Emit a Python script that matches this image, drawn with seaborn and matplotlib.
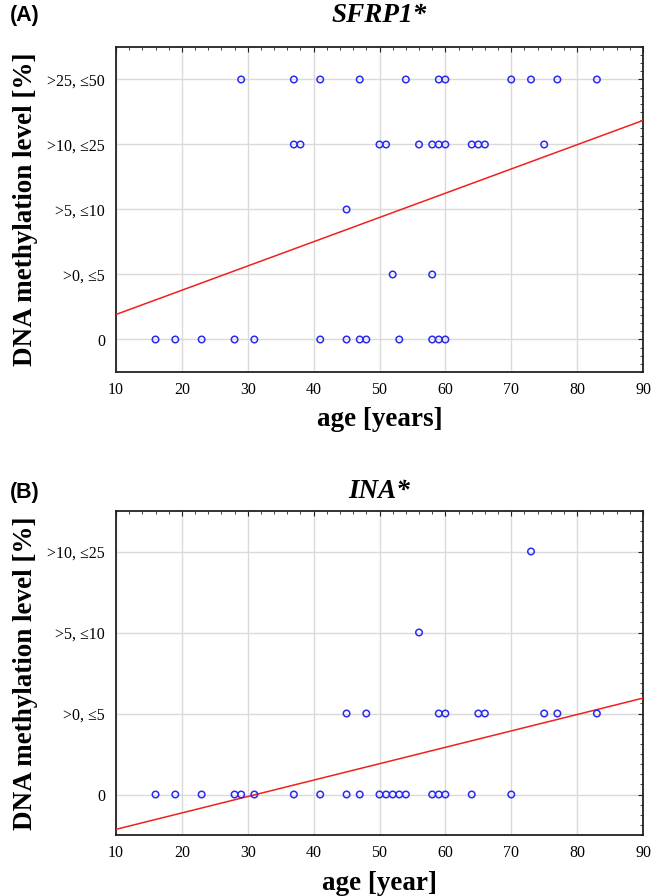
import numpy as np
import pandas as pd
import matplotlib
matplotlib.use("Agg")
import matplotlib.pyplot as plt
from matplotlib.ticker import MultipleLocator, FixedLocator
import seaborn as sns

# ---------------- data ----------------
level_labels = ["0", ">0, \u22645", ">5, \u226410", ">10, \u226425", ">25, \u226450"]

# SFRP1 : ages of patients in each methylation class (class index = position in level_labels)
sfrp1_ages_0 = [16, 19, 23, 28, 31, 41, 45, 47, 48, 53, 58, 59, 60]
sfrp1_ages_1 = [52, 58]
sfrp1_ages_2 = [45]
sfrp1_ages_3 = [37, 38, 50, 51, 56, 58, 59, 60, 64, 65, 66, 75]
sfrp1_ages_4 = [29, 37, 41, 47, 54, 59, 60, 70, 73, 77, 83]

# INA
ina_ages_0 = [16, 19, 23, 28, 29, 31, 37, 41, 45, 47, 50, 51, 52, 53, 54, 58, 59, 60, 64, 70]
ina_ages_1 = [45, 48, 59, 60, 65, 66, 75, 77, 83]
ina_ages_2 = [56]
ina_ages_3 = [73]

# fitted trend lines
trend_ages = [10, 90]
sfrp1_trend = [0.385, 3.37]
ina_trend = [-0.43, 1.19]

age_ticks = [10, 20, 30, 40, 50, 60, 70, 80, 90]


def to_frame(groups):
    rows = []
    for lvl, ages in enumerate(groups):
        for a in ages:
            rows.append((a, lvl))
    return pd.DataFrame(rows, columns=["age", "level"])


sfrp1_df = to_frame([sfrp1_ages_0, sfrp1_ages_1, sfrp1_ages_2, sfrp1_ages_3, sfrp1_ages_4])
ina_df = to_frame([ina_ages_0, ina_ages_1, ina_ages_2, ina_ages_3])

# ---------------- style ----------------
sns.set_theme(style="white")
plt.rcParams["font.family"] = ["Liberation Serif", "DejaVu Serif"]
plt.rcParams["text.color"] = "black"
plt.rcParams["axes.labelcolor"] = "black"
plt.rcParams["xtick.color"] = "black"
plt.rcParams["ytick.color"] = "black"

W, H = 651, 896
fig = plt.figure(figsize=(W / 100, H / 100), dpi=100)

BLUE = "#2b2bf0"
RED = "#f02020"


def make_panel(box, df, trend, n_levels, title, panel, xlabel, title_y, lab_y, xlab_y):
    left, top, right, bottom = box
    ax = fig.add_axes([left / W, 1 - bottom / H, (right - left) / W, (bottom - top) / H])
    ax.set_axisbelow(True)
    ax.grid(True, which="major", color="#dadada", linewidth=1.0)

    sns.lineplot(x=trend_ages, y=trend, ax=ax, color=RED, linewidth=1.1,
                 estimator=None, sort=False, zorder=3)
    sns.scatterplot(data=df, x="age", y="level", ax=ax, color=BLUE, s=22,
                    linewidth=1.1, zorder=4, legend=False)
    coll = ax.collections[-1]
    coll.set_facecolor("none")
    coll.set_edgecolor(BLUE)

    ax.set_xlim(10, 90)
    ax.set_ylim(-0.5, n_levels - 0.5)
    ax.xaxis.set_major_locator(FixedLocator(age_ticks))
    ax.xaxis.set_minor_locator(MultipleLocator(2))
    ax.set_yticks(range(n_levels))
    ax.set_yticklabels(level_labels[:n_levels])
    ax.yaxis.set_minor_locator(MultipleLocator(0.125))
    ax.tick_params(axis="both", which="both", direction="in", top=True, right=True,
                   colors="#222222", labelcolor="black", labelsize=11.5)
    ax.tick_params(axis="both", which="major", length=3.5, width=0.8)
    ax.tick_params(axis="both", which="minor", length=2, width=0.6)
    ax.tick_params(axis="x", which="major", pad=7)
    ax.tick_params(axis="y", which="major", pad=8)
    for sp in ax.spines.values():
        sp.set_color("#222222")
        sp.set_linewidth(1.3)

    ax.set_xlabel(xlabel, fontsize=19.5, fontweight="bold", va="center", color="black")
    ax.xaxis.set_label_coords(0.5, -(xlab_y - bottom) / (bottom - top))
    ax.set_ylabel("DNA methylation level [%]", fontsize=19.5, fontweight="bold",
                  va="center", color="black")
    ax.yaxis.set_label_coords((26 - left) / (right - left), 0.5)

    ax.text(0.5, (bottom - title_y) / (bottom - top), title, transform=ax.transAxes,
            ha="center", va="center", fontsize=19.5, fontweight="bold", fontstyle="italic",
            color="black")
    ax.text((10 - left) / (right - left), (bottom - lab_y) / (bottom - top), panel,
            transform=ax.transAxes, ha="left", va="center", fontsize=15.5,
            fontweight="bold", color="black",
            family=["Liberation Sans", "DejaVu Sans"])
    return ax


make_panel((116, 47, 643, 372), sfrp1_df, sfrp1_trend, 5, "SFRP1*", "(A)", "age [years]",
           16, 15, 419)
make_panel((116, 511, 643, 835), ina_df, ina_trend, 4, "INA*", "(B)", "age [year]",
           491, 492, 883)

fig.savefig("out.png", dpi=100)
